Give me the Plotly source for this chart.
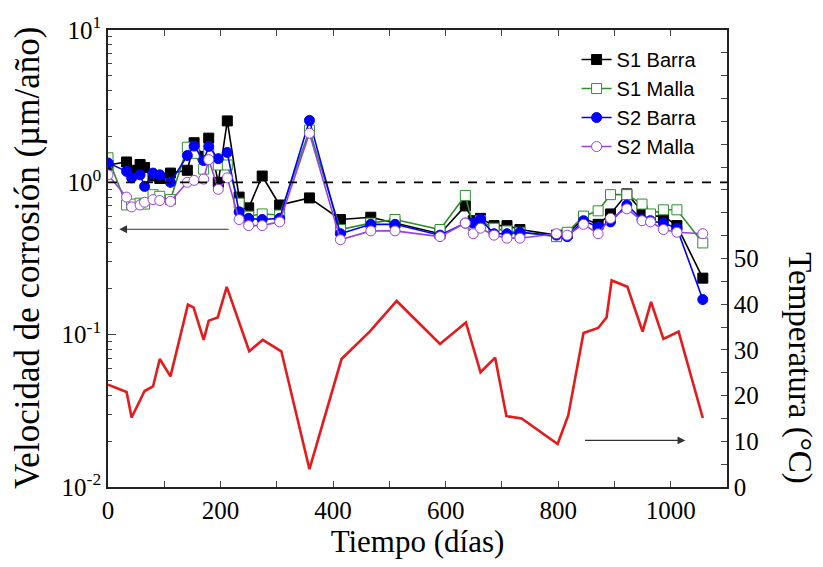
import plotly.graph_objects as go

# Sampling days shared by the four corrosion-rate series
days = [0, 33, 42, 57, 65, 80, 92, 111, 141, 153, 170, 179, 196, 212, 233, 250,
        274, 305, 358, 413, 467, 510, 590, 635, 649, 662, 686, 709, 732, 797,
        816, 845, 871, 893, 922, 949, 964, 987, 1011, 1057]

s1_barra = [1.30, 1.36, 1.20, 1.31, 1.25, 1.10, 1.06, 1.15, 1.20, 1.82, 1.48, 1.95,
            1.00, 2.53, 0.80, 0.68, 1.10, 0.71, 0.79, 0.57, 0.59, 0.54, 0.46, 0.70,
            0.56, 0.58, 0.52, 0.52, 0.49, 0.45, 0.46, 0.58, 0.53, 0.62, 0.84, 0.65,
            0.60, 0.60, 0.52, 0.235]
s1_malla = [1.45, 0.71, 0.72, 0.73, 0.72, 0.83, 0.81, 0.77, 1.70, 1.55, 1.22, 1.55,
            1.30, 1.30, 0.73, 0.60, 0.62, 0.61, 2.20, 0.49, 0.54, 0.57, 0.49, 0.82,
            0.52, 0.56, 0.50, 0.48, 0.47, 0.44, 0.47, 0.60, 0.65, 0.83, 0.83, 0.72,
            0.62, 0.66, 0.66, 0.40]
s2_barra = [1.34, 1.18, 1.07, 1.12, 0.94, 1.15, 1.12, 1.00, 1.50, 1.73, 1.39, 1.72,
            1.43, 1.57, 0.64, 0.58, 0.57, 0.58, 2.55, 0.46, 0.53, 0.53, 0.45, 0.54,
            0.54, 0.57, 0.46, 0.46, 0.47, 0.45, 0.44, 0.56, 0.51, 0.55, 0.71, 0.57,
            0.56, 0.54, 0.50, 0.170]
s2_malla = [1.12, 0.80, 0.69, 0.71, 0.74, 0.77, 0.76, 0.75, 1.00, 1.03, 1.05, 1.41,
            0.90, 1.07, 0.57, 0.52, 0.52, 0.55, 2.10, 0.42, 0.48, 0.48, 0.44, 0.54,
            0.46, 0.50, 0.45, 0.43, 0.43, 0.46, 0.45, 0.53, 0.46, 0.58, 0.67, 0.56,
            0.55, 0.49, 0.47, 0.46]

# Ambient temperature record
temp_days = [0, 33, 42, 65, 80, 92, 111, 142, 152, 170, 179, 195, 211, 251, 275,
             308, 358, 415, 465, 513, 590, 636, 662, 688, 708, 735, 799, 818, 845,
             871, 886, 895, 923, 950, 965, 987, 1014, 1057]
temperature = [22.4, 20.8, 15.2, 21.0, 22.0, 28.0, 24.2, 39.9, 39.3, 32.2, 36.4,
               37.1, 43.8, 29.7, 32.2, 29.7, 3.9, 28.0, 34.0, 40.7, 31.3, 36.0,
               25.1, 28.3, 15.5, 15.0, 9.4, 15.7, 33.7, 34.8, 37.1, 45.2, 43.8,
               34.0, 40.5, 32.4, 34.0, 15.1]

x_ticks = list(range(0, 1101, 100))
x_labels = [str(v) if v % 200 == 0 else "" for v in x_ticks]
y_ticks = [0.01, 0.1, 1, 10]
y_labels = ["10<sup>-2</sup>", "10<sup>-1</sup>", "10<sup>0</sup>", "10<sup>1</sup>"]
y_minor = [m * 10.0 ** e for e in (-2, -1, 0) for m in range(2, 10)]
t_ticks = list(range(0, 101, 5))
t_labels = [str(v) if (v % 10 == 0 and v <= 50) else "" for v in t_ticks]

serif = "Liberation Serif"
sans = "Liberation Sans"

fig = go.Figure()

fig.add_trace(go.Scatter(
    x=temp_days, y=temperature, yaxis="y2", mode="lines",
    line=dict(color="#e41a1c", width=2.6), showlegend=False))

series = [
    ("S1 Barra", s1_barra, "square", "black", "black"),
    ("S1 Malla", s1_malla, "square", "white", "#2f8f2f"),
    ("S2 Barra", s2_barra, "circle", "#0000ff", "#0000ff"),
    ("S2 Malla", s2_malla, "circle", "white", "#9a40e0"),
]
for name, vals, sym, fill, col in series:
    fig.add_trace(go.Scatter(
        x=days, y=vals, name=name, mode="lines+markers",
        line=dict(color=col, width=1.6),
        marker=dict(symbol=sym, size=10, color=fill,
                    line=dict(color=col, width=1))))

fig.add_hline(y=1, line=dict(color="black", width=1.6, dash="dash"))

# Arrows pointing to each series' axis
fig.add_annotation(x=20, y=56.4, ax=217, ay=56.4, xref="x", yref="y2",
                   axref="x", ayref="y2", text="", showarrow=True,
                   arrowhead=2, arrowsize=1.3, arrowwidth=1.2, arrowcolor="#333")
fig.add_annotation(x=1026, y=10.2, ax=845, ay=10.2, xref="x", yref="y2",
                   axref="x", ayref="y2", text="", showarrow=True,
                   arrowhead=2, arrowsize=1.3, arrowwidth=1.2, arrowcolor="#333")

fig.add_annotation(x=-0.13, y=0.5, xref="paper", yref="paper",
                   xanchor="center", yanchor="middle",
                   text="Velocidad de corrosión (µm/año)", showarrow=False,
                   textangle=-90, font=dict(family=serif, size=35, color="black"))
fig.add_annotation(x=1.118, y=0.26, xref="paper", yref="paper",
                   xanchor="center", yanchor="middle",
                   text="Temperatura (°C)", showarrow=False,
                   textangle=90, font=dict(family=serif, size=33, color="black"))

fig.update_layout(
    width=823, height=567,
    margin=dict(l=108, r=96, t=28, b=80),
    paper_bgcolor="white", plot_bgcolor="white",
    font=dict(family=serif, size=25, color="black"),
    xaxis=dict(range=[0, 1100], tickmode="array", tickvals=x_ticks,
               ticktext=x_labels, ticks="inside", ticklen=6, tickwidth=1.3,
               showline=True, linecolor="#222", linewidth=1.6, mirror="ticks",
               showgrid=False, zeroline=False,
               title=dict(text="Tiempo (días)", font=dict(size=31), standoff=4)),
    yaxis=dict(type="log", range=[-2, 1], tickmode="array", tickvals=y_ticks,
               ticktext=y_labels, ticks="inside", ticklen=8, tickwidth=1.3,
               minor=dict(tickmode="array", tickvals=y_minor, ticks="inside",
                          ticklen=4, tickwidth=1.1, showgrid=False),
               showline=True, linecolor="#222", linewidth=1.6,
               showgrid=False, zeroline=False),
    yaxis2=dict(overlaying="y", side="right", range=[0, 100],
                tickmode="array", tickvals=t_ticks, ticktext=t_labels,
                ticks="inside", ticklen=6, tickwidth=1.3,
                showline=True, linecolor="#222", linewidth=1.6,
                showgrid=False, zeroline=False),
    legend=dict(x=0.757, y=0.978, xanchor="left", yanchor="top",
                bgcolor="rgba(0,0,0,0)", font=dict(family=sans, size=20),
                tracegroupgap=0, itemwidth=30),
)

fig.write_html("out.html")
